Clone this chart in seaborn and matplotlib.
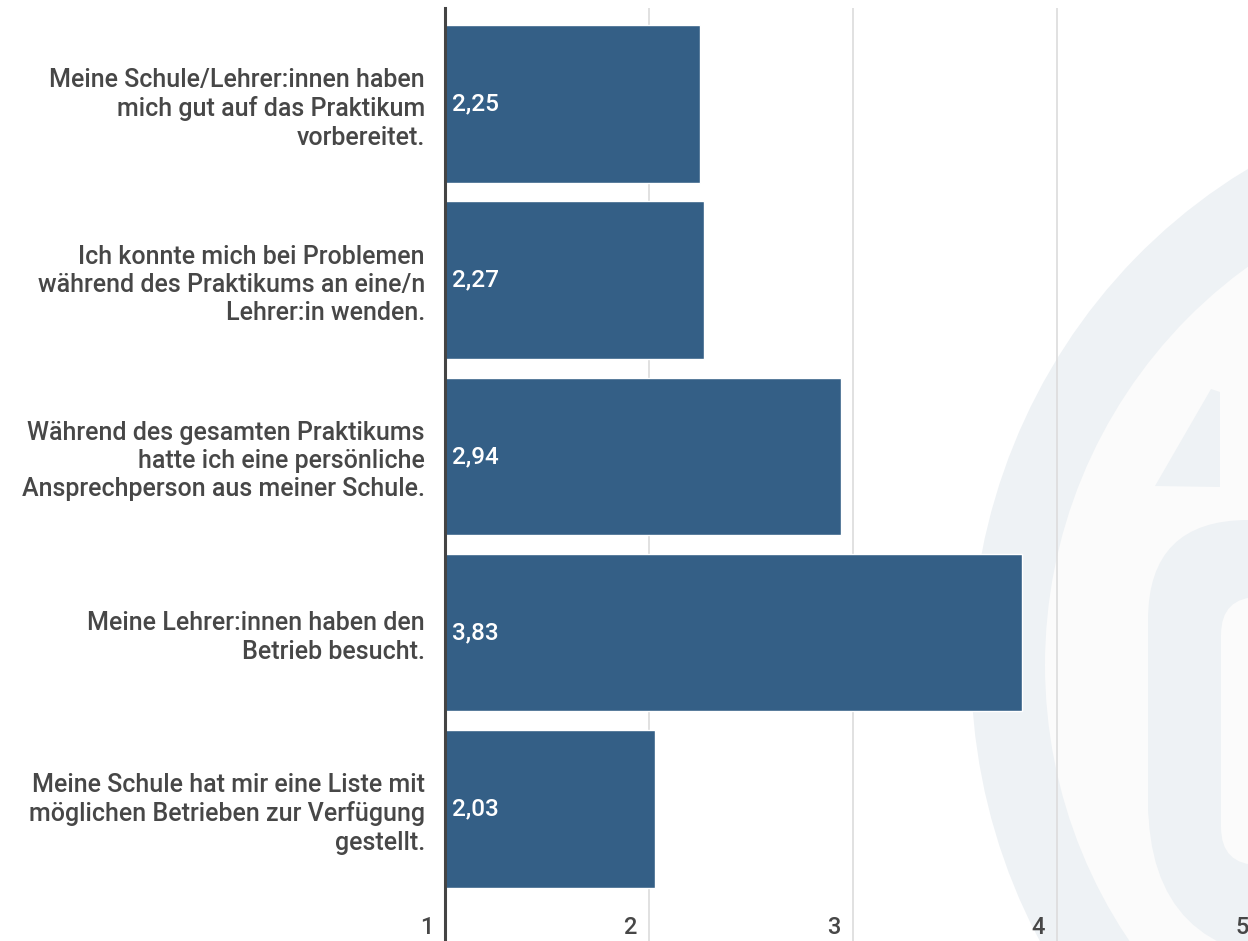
"""
Praktikum survey: mean agreement per statement (scale 1-5), horizontal bars.
"""

import matplotlib
matplotlib.use("Agg")
import matplotlib.pyplot as plt
import matplotlib.transforms as mtransforms
from matplotlib.patches import Ellipse, Polygon, FancyBboxPatch
import pandas as pd
import seaborn as sns

# ---------------------------------------------------------------------------
# Data
# ---------------------------------------------------------------------------
statements = [
    "Meine Schule/Lehrer:innen haben\nmich gut auf das Praktikum\nvorbereitet.",
    "Ich konnte mich bei Problemen\nwährend des Praktikums an eine/n\nLehrer:in wenden.",
    "Während des gesamten Praktikums\nhatte ich eine persönliche\nAnsprechperson aus meiner Schule.",
    "Meine Lehrer:innen haben den\nBetrieb besucht.",
    "Meine Schule hat mir eine Liste mit\nmöglichen Betrieben zur Verfügung\ngestellt.",
]
means = [2.25, 2.27, 2.94, 3.83, 2.03]
scale_ticks = [1, 2, 3, 4, 5]

df = pd.DataFrame({"statement": statements, "mean": means})

# ---------------------------------------------------------------------------
# Style
# ---------------------------------------------------------------------------
sns.set_style("white")
plt.rcParams["font.family"] = ["Roboto", "DejaVu Sans"]

BAR = "#345f86"
TXT = "#474747"
GRID = "#dcdcdc"
MARK = "#eef2f5"
INSIDE = "#fbfbfb"

W, H = 1248, 941
fig = plt.figure(figsize=(W / 100, H / 100), dpi=100)
fig.patch.set_facecolor("white")

PIX = mtransforms.IdentityTransform()  # display pixels, bottom-left origin


def add_mark(patch):
    patch.set_transform(PIX)
    patch.set_zorder(-5)
    fig.patches.append(patch)


# faint logo watermark behind the chart (pixel coords, y flipped)
cx, cy = 1531, H - 665
add_mark(Ellipse((cx, cy), 2 * 560, 2 * 575, facecolor=MARK, edgecolor="none"))
add_mark(Ellipse((cx, cy), 2 * 486, 2 * 490, facecolor=INSIDE, edgecolor="none"))
add_mark(Polygon([(1155, H - 486), (1211, H - 389), (1220, H - 392), (1220, H - 487)],
                 closed=True, facecolor=MARK, edgecolor="none"))
add_mark(FancyBboxPatch((1148, H - 900), 400, 380,
                        boxstyle="round,pad=0,rounding_size=100",
                        facecolor=MARK, edgecolor="none"))
add_mark(FancyBboxPatch((1148, H - 960), 400, 340,
                        boxstyle="round,pad=0,rounding_size=160",
                        facecolor=MARK, edgecolor="none"))
add_mark(FancyBboxPatch((1221, H - 865), 400, 268,
                        boxstyle="round,pad=0,rounding_size=38",
                        facecolor=INSIDE, edgecolor="none"))

# axes: left spine at x=445 px, one scale unit = 204 px
ax = fig.add_axes([445 / W, 0, (W - 445) / W, (H - 8) / H])
ax.set_facecolor("none")

sns.barplot(data=df, x="mean", y="statement", orient="h", color=BAR,
            saturation=1, width=0.895, ax=ax, zorder=2)

unit = 204
ax.set_xlim(1, 1 + (W - 445) / unit)
ax.set_ylim(4.75, -0.545)

# gridlines
for t in scale_ticks[1:]:
    ax.axvline(t, color=GRID, linewidth=1.2, zorder=0)

# value labels inside the bars
lab_off = mtransforms.offset_copy(ax.transData, fig=fig, x=7, y=0, units="dots")
for i, v in enumerate(means):
    ax.text(1, i, f"{v:.2f}".replace(".", ","), color="white", fontsize=17.5,
            fontweight="medium", ha="left", va="center", transform=lab_off,
            zorder=3)

# scale numbers sitting just left of each gridline at the bottom
blend = mtransforms.blended_transform_factory(ax.transData, ax.transAxes)
tick_off = mtransforms.offset_copy(blend, fig=fig, x=-12, y=0, units="dots")
for t in scale_ticks:
    ax.text(t, 13 / (H - 8), str(t), color=TXT, fontsize=17,
            fontweight="medium", ha="right", va="center",
            transform=tick_off, zorder=3)

ax.set_xticks([])
ax.set_xlabel("")
ax.set_ylabel("")
ax.tick_params(axis="y", length=0, pad=14.5)
for lbl in ax.get_yticklabels():
    lbl.set_fontsize(18)
    lbl.set_color(TXT)
    lbl.set_fontweight("medium")
    lbl.set_linespacing(1.23)
    lbl.set_multialignment("right")

for s in ["top", "right", "bottom"]:
    ax.spines[s].set_visible(False)
ax.spines["left"].set_color("#444444")
ax.spines["left"].set_linewidth(2.2)
ax.spines["left"].set_zorder(4)

fig.savefig("out.png", dpi=100)
